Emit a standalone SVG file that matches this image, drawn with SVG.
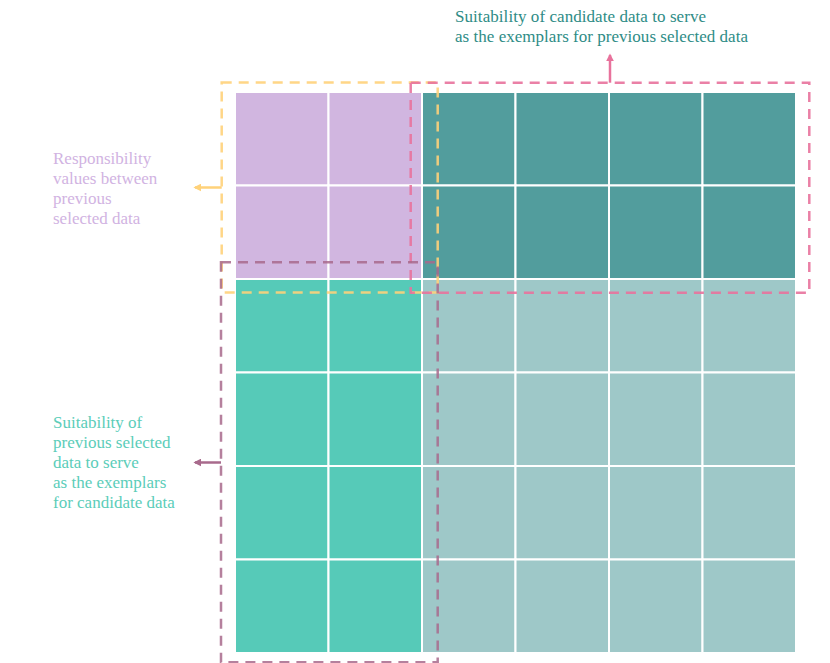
<svg xmlns="http://www.w3.org/2000/svg" width="830" height="663" viewBox="0 0 830 663">
<defs>
<style>
.cell{stroke:#ffffff;stroke-width:2}
.p{fill:#D1B6E0}.d{fill:#529D9D}.m{fill:#56CAB8}.l{fill:#9EC8C8}
.box{fill:none;stroke-width:2.5;stroke-dasharray:10 7}
.lbl{font-family:"Liberation Serif","Times New Roman",serif;font-size:17px}
</style>
<marker id="ay" viewBox="0 0 10 10" refX="8" refY="5" markerWidth="3.2" markerHeight="3.2" orient="auto"><path d="M0,0 L10,5 L0,10 z" fill="#FFD27A"/></marker>
<marker id="ap" viewBox="0 0 10 10" refX="8" refY="5" markerWidth="3.2" markerHeight="3.2" orient="auto"><path d="M0,0 L10,5 L0,10 z" fill="#E8729C"/></marker>
<marker id="am" viewBox="0 0 10 10" refX="8" refY="5" markerWidth="3.2" markerHeight="3.2" orient="auto"><path d="M0,0 L10,5 L0,10 z" fill="#A86A8C"/></marker>
</defs>
<rect width="830" height="663" fill="#ffffff"/>
<g id="matrix">
<rect class="cell p" x="235" y="92" width="93.5" height="93.5"/>
<rect class="cell p" x="328.5" y="92" width="93.5" height="93.5"/>
<rect class="cell d" x="422" y="92" width="93.5" height="93.5"/>
<rect class="cell d" x="515.5" y="92" width="93.5" height="93.5"/>
<rect class="cell d" x="609" y="92" width="93.5" height="93.5"/>
<rect class="cell d" x="702.5" y="92" width="93.5" height="93.5"/>
<rect class="cell p" x="235" y="185.5" width="93.5" height="93.5"/>
<rect class="cell p" x="328.5" y="185.5" width="93.5" height="93.5"/>
<rect class="cell d" x="422" y="185.5" width="93.5" height="93.5"/>
<rect class="cell d" x="515.5" y="185.5" width="93.5" height="93.5"/>
<rect class="cell d" x="609" y="185.5" width="93.5" height="93.5"/>
<rect class="cell d" x="702.5" y="185.5" width="93.5" height="93.5"/>
<rect class="cell m" x="235" y="279" width="93.5" height="93.5"/>
<rect class="cell m" x="328.5" y="279" width="93.5" height="93.5"/>
<rect class="cell l" x="422" y="279" width="93.5" height="93.5"/>
<rect class="cell l" x="515.5" y="279" width="93.5" height="93.5"/>
<rect class="cell l" x="609" y="279" width="93.5" height="93.5"/>
<rect class="cell l" x="702.5" y="279" width="93.5" height="93.5"/>
<rect class="cell m" x="235" y="372.5" width="93.5" height="93.5"/>
<rect class="cell m" x="328.5" y="372.5" width="93.5" height="93.5"/>
<rect class="cell l" x="422" y="372.5" width="93.5" height="93.5"/>
<rect class="cell l" x="515.5" y="372.5" width="93.5" height="93.5"/>
<rect class="cell l" x="609" y="372.5" width="93.5" height="93.5"/>
<rect class="cell l" x="702.5" y="372.5" width="93.5" height="93.5"/>
<rect class="cell m" x="235" y="466" width="93.5" height="93.5"/>
<rect class="cell m" x="328.5" y="466" width="93.5" height="93.5"/>
<rect class="cell l" x="422" y="466" width="93.5" height="93.5"/>
<rect class="cell l" x="515.5" y="466" width="93.5" height="93.5"/>
<rect class="cell l" x="609" y="466" width="93.5" height="93.5"/>
<rect class="cell l" x="702.5" y="466" width="93.5" height="93.5"/>
<rect class="cell m" x="235" y="559.5" width="93.5" height="93.5"/>
<rect class="cell m" x="328.5" y="559.5" width="93.5" height="93.5"/>
<rect class="cell l" x="422" y="559.5" width="93.5" height="93.5"/>
<rect class="cell l" x="515.5" y="559.5" width="93.5" height="93.5"/>
<rect class="cell l" x="609" y="559.5" width="93.5" height="93.5"/>
<rect class="cell l" x="702.5" y="559.5" width="93.5" height="93.5"/>
</g>
<g id="box-responsibility">
<rect class="box" x="221.7" y="82.5" width="216" height="210" stroke="#FFD27A" stroke-opacity="0.9"/>
</g>
<g id="box-candidate">
<rect class="box" x="410.7" y="82.7" width="398.6" height="210" stroke="#E8729C" stroke-opacity="0.9"/>
</g>
<g id="box-previous">
<rect class="box" x="221" y="262.3" width="216.7" height="400" stroke="#A86A8C" stroke-opacity="0.85"/>
</g>
<g id="connectors">
<line x1="221.7" y1="187.5" x2="195" y2="187.5" stroke="#FFD27A" stroke-width="2.5" marker-end="url(#ay)"/>
<line x1="610" y1="82.7" x2="610" y2="55" stroke="#E8729C" stroke-width="2.5" marker-end="url(#ap)"/>
<line x1="221" y1="462.5" x2="195" y2="462.5" stroke="#A86A8C" stroke-width="2.5" marker-end="url(#am)"/>
</g>
<g id="label-top" class="lbl" fill="#2E8C86">
<text x="455" y="22" textLength="251" lengthAdjust="spacing">Suitability of candidate data to serve</text>
<text x="455" y="42" textLength="293" lengthAdjust="spacing">as the exemplars for previous selected data</text>
</g>
<g id="label-responsibility" class="lbl" fill="#D1B3E2">
<text x="53" y="164">Responsibility</text>
<text x="53" y="184">values between</text>
<text x="53" y="204">previous</text>
<text x="53" y="224">selected data</text>
</g>
<g id="label-previous" class="lbl" fill="#5BCDB9">
<text x="53" y="428">Suitability of</text>
<text x="53" y="448">previous selected</text>
<text x="53" y="468">data to serve</text>
<text x="53" y="488">as the exemplars</text>
<text x="53" y="508">for candidate data</text>
</g>
</svg>
